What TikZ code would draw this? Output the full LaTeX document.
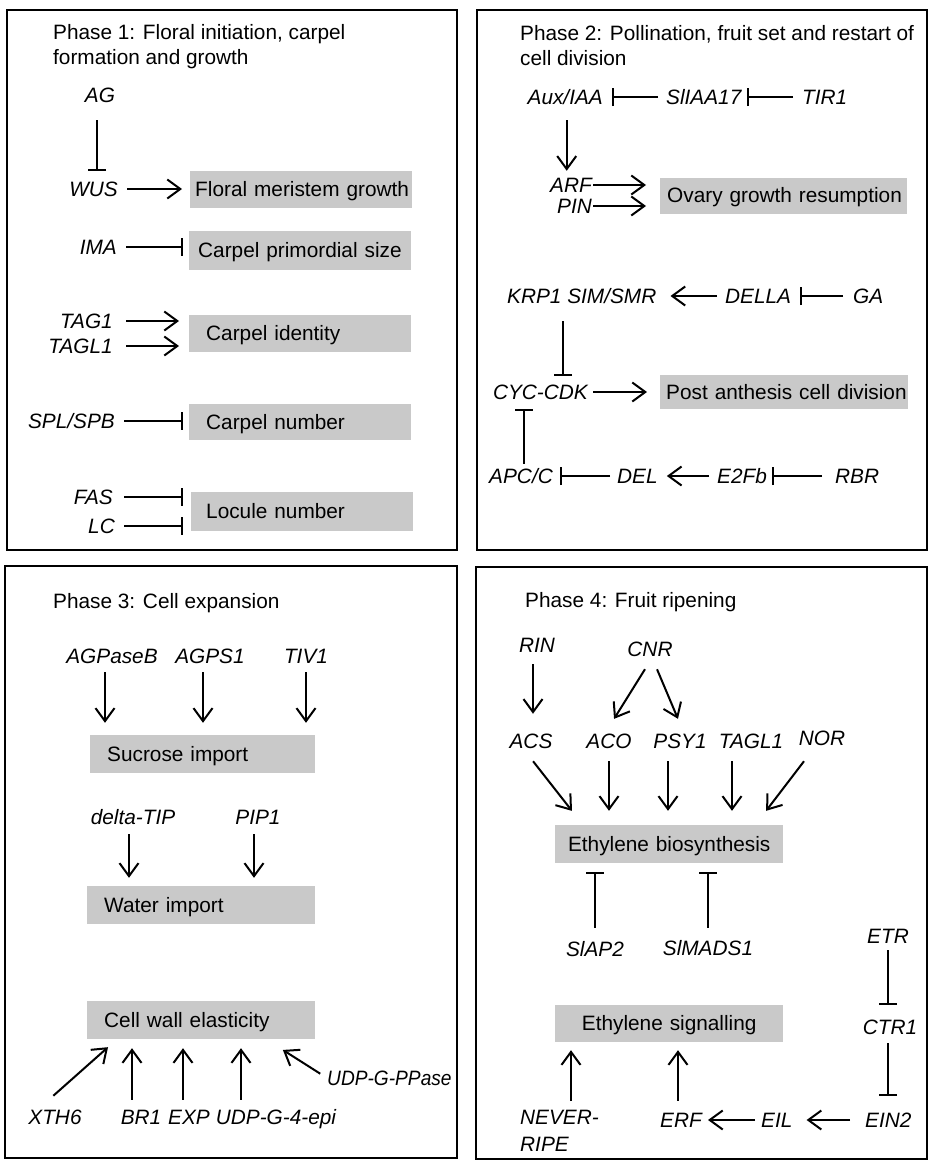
\documentclass[tikz,border=0pt]{standalone}
\usepackage{fontspec}
\setmainfont{Liberation Sans}
\usetikzlibrary{arrows.meta}
\definecolor{boxgray}{RGB}{201,201,201}
\begin{document}
\begin{tikzpicture}[x=1pt,y=-1pt,
  every node/.style={font=\fontsize{20.8}{25}\selectfont, inner sep=0pt},
  gene/.style={font=\fontsize{20.8}{25}\selectfont\itshape, text height=14.9pt, text depth=0pt},
  title/.style={anchor=north west, align=left},
  box/.style={fill=boxgray, anchor=west, text height=14.9pt, text depth=0pt},
  act/.style={line width=2pt, -{Straight Barb[length=13pt,width=19pt]}},
  inh/.style={line width=2pt, -{Bar[width=18pt]}},
  panel/.style={draw, line width=1.4pt}]
\useasboundingbox[fill=white] (0,0) rectangle (930,1173);

% ---------------- Panel 1 ----------------
\draw[panel] (7,10) rectangle (457,550);
\node[title] (t1) at (53,24.6) {Phase 1: Floral initiation, carpel\\formation and growth};
\node[gene] (AG) at (100,95) {AG};
\node[gene, anchor=east] (WUS) at (118,189) {WUS};
\node[box, text width=222pt, minimum height=37pt, align=left] (fmg) at (190,189.5) {\hspace*{5pt}Floral meristem growth};
\draw[act, shorten <=9pt, shorten >=8pt] (WUS.east) -- (WUS.east -| fmg.west);
\draw[inh, shorten <=17.6pt, shorten >=10.6pt] ([xshift=-3pt]AG.south) -- ([xshift=-3pt]AG.south |- WUS.north);

\node[gene, anchor=east] (IMA) at (117,247) {IMA};
\node[box, text width=222pt, minimum height=39pt, align=left] (cps) at (189,250.5) {\hspace*{9pt}Carpel primordial size};
\draw[inh, shorten <=9pt, shorten >=6pt] (IMA.east) -- (IMA.east -| cps.west);

\node[gene, anchor=east] (TAG1) at (113,321) {TAG1};
\node[gene, anchor=east] (TAGL1) at (113,346) {TAGL1};
\node[box, text width=222pt, minimum height=37pt, align=left] (cid) at (189,333.5) {\hspace*{17pt}Carpel identity};
\draw[act, shorten <=13pt, shorten >=10pt] (TAG1.east) -- (TAG1.east -| cid.west);
\draw[act, shorten <=13pt, shorten >=10pt] (TAGL1.east) -- (TAGL1.east -| cid.west);

\node[gene, anchor=east] (SPL) at (115,421) {SPL/SPB};
\node[box, text width=222pt, minimum height=36pt, align=left] (cnum) at (189,422) {\hspace*{17pt}Carpel number};
\draw[inh, shorten <=9pt, shorten >=6pt] (SPL.east) -- (SPL.east -| cnum.west);

\node[gene, anchor=east] (FAS) at (113,497) {FAS};
\node[gene, anchor=east] (LC) at (115,526) {LC};
\node[box, text width=222pt, minimum height=39pt, align=left] (lnum) at (191,511.5) {\hspace*{15pt}Locule number};
\draw[inh, shorten <=11pt, shorten >=8pt] (FAS.east) -- (FAS.east -| lnum.west);
\draw[inh, shorten <=9pt, shorten >=8pt] (LC.east) -- (LC.east -| lnum.west);

% ---------------- Panel 2 ----------------
\draw[panel] (477,10) rectangle (927,550);
\node[title] (t2) at (520,25.5) {Phase 2: Pollination, fruit set and restart of\\cell division};
\node[gene, anchor=east] (AuxIAA) at (603,97) {Aux/IAA};
\node[gene, anchor=west] (SlIAA17) at (666,97) {SlIAA17};
\node[gene, anchor=west] (TIR1) at (802,97) {TIR1};
\draw[inh, shorten <=9pt, shorten >=5pt] (TIR1.west) -- (SlIAA17.east);
\draw[inh, shorten <=8pt, shorten >=9pt] (SlIAA17.west) -- (AuxIAA.east);

\node[gene, anchor=east] (ARF) at (592,185) {ARF};
\node[gene, anchor=east] (PIN) at (592,206) {PIN};
\draw[act, shorten <=15.6pt, shorten >=6.6pt] ([xshift=1.5pt]AuxIAA.south) -- ([xshift=1.5pt]AuxIAA.south |- ARF.north);
\node[box, text width=247pt, minimum height=36pt, align=left] (ogr) at (660,195.5) {\hspace*{7pt}Ovary growth resumption};
\draw[act, shorten <=1pt, shorten >=14pt] (ARF.east) -- (ARF.east -| ogr.west);
\draw[act, shorten <=1pt, shorten >=14pt] (PIN.east) -- (PIN.east -| ogr.west);

\node[gene, anchor=west] (KRP) at (507,296) {KRP1 SIM/SMR};
\node[gene, anchor=west] (DELLA) at (725,296) {DELLA};
\node[gene, anchor=west] (GA) at (853,296) {GA};
\draw[inh, shorten <=10pt, shorten >=9pt] (GA.west) -- (DELLA.east);
\draw[act, shorten <=8pt, shorten >=14pt] (DELLA.west) -- (KRP.east);

\node[gene, anchor=east] (CYC) at (588,392) {CYC-CDK};
\draw[inh, shorten <=17.6pt, shorten >=8.6pt] ([xshift=56pt]KRP.south west) -- ([xshift=56pt]KRP.south west |- CYC.north);
\node[box, text width=248pt, minimum height=34pt, align=left] (pacd) at (660,392) {\hspace*{6pt}Post anthesis cell division};
\draw[act, shorten <=5pt, shorten >=13pt] (CYC.east) -- (CYC.east -| pacd.west);

\node[gene, anchor=east] (APC) at (553,476) {APC/C};
\node[gene, anchor=west] (DEL) at (617,476) {DEL};
\node[gene, anchor=west] (E2Fb) at (717,476) {E2Fb};
\node[gene, anchor=west] (RBR) at (835,476) {RBR};
\draw[inh, shorten <=4.6pt, shorten >=9.6pt] ([xshift=-29pt]APC.north east) -- ([xshift=-29pt]APC.north east |- CYC.south);
\draw[inh, shorten <=7pt, shorten >=7pt] (DEL.west) -- (APC.east);
\draw[act, shorten <=8pt, shorten >=9pt] (E2Fb.west) -- (DEL.east);
\draw[inh, shorten <=13pt, shorten >=5pt] (RBR.west) -- (E2Fb.east);

% ---------------- Panel 3 ----------------
\draw[panel] (5,566) rectangle (457,1158);
\node[title] (t3) at (53,593.6) {Phase 3: Cell expansion};
\node[gene] (AGPaseB) at (112,656) {AGPaseB};
\node[gene] (AGPS1) at (210,656) {AGPS1};
\node[gene] (TIV1) at (306,656) {TIV1};
\node[box, text width=225pt, minimum height=38pt, align=left] (suc) at (90,754) {\hspace*{17pt}Sucrose import};
\draw[act, shorten <=8.6pt, shorten >=12pt] ([xshift=-7pt]AGPaseB.south) -- ([xshift=-7pt]AGPaseB.south |- suc.north);
\draw[act, shorten <=8.6pt, shorten >=12pt] ([xshift=-7pt]AGPS1.south) -- ([xshift=-7pt]AGPS1.south |- suc.north);
\draw[act, shorten <=8.6pt, shorten >=12pt] (TIV1.south) -- (TIV1.south |- suc.north);

\node[gene] (dTIP) at (133,817) {delta-TIP};
\node[gene] (PIP1) at (258,817) {PIP1};
\node[box, text width=228pt, minimum height=38pt, align=left] (wat) at (87,905) {\hspace*{17pt}Water import};
\draw[act, shorten <=9.6pt, shorten >=8pt] ([xshift=-4pt]dTIP.south) -- ([xshift=-4pt]dTIP.south |- wat.north);
\draw[act, shorten <=9.6pt, shorten >=8pt] ([xshift=-4pt]PIP1.south) -- ([xshift=-4pt]PIP1.south |- wat.north);

\node[box, text width=228pt, minimum height=38pt, align=left] (cwe) at (87,1020) {\hspace*{17pt}Cell wall elasticity};
\node[gene] (XTH6) at (55,1117) {XTH6};
\node[gene] (BR1) at (141,1117) {BR1};
\node[gene] (EXP) at (189,1117) {EXP};
\node[gene] (UDPG4) at (276,1117) {UDP-G-4-epi};
\node[gene, anchor=west] (UDPGPP) at (327,1078) {\scalebox{0.92}[1]{UDP-G-PPase}};
\draw[act, shorten <=20.5pt, shorten >=12pt] ([xshift=-17pt]XTH6.north) -- ([xshift=30pt]cwe.south west);
\draw[act, shorten <=9.6pt, shorten >=9pt] ([xshift=-9pt]BR1.north) -- ([xshift=-9pt]BR1.north |- cwe.south);
\draw[act, shorten <=9.6pt, shorten >=9pt] ([xshift=-6pt]EXP.north) -- ([xshift=-6pt]EXP.north |- cwe.south);
\draw[act, shorten <=9.6pt, shorten >=9pt] ([xshift=-35pt]UDPG4.north) -- ([xshift=-35pt]UDPG4.north |- cwe.south);
\draw[act, shorten <=8pt, shorten >=20pt] (UDPGPP.west) -- ([xshift=179pt]cwe.south west);

% ---------------- Panel 4 ----------------
\draw[panel] (476,567) rectangle (927,1159);
\node[title] (t4) at (525,592.6) {Phase 4: Fruit ripening};
\node[gene] (RIN) at (537,645) {RIN};
\node[gene] (CNR) at (650,649) {CNR};
\node[gene] (ACS) at (531,741) {ACS};
\node[gene] (ACO) at (609,741) {ACO};
\node[gene] (PSY1) at (680,741) {PSY1};
\node[gene] (TAGL1b) at (751,741) {TAGL1};
\node[gene] (NOR) at (822,738) {NOR};
\draw[act, shorten <=11.6pt, shorten >=19.6pt] ([xshift=-4pt]RIN.south) -- ([xshift=-4pt]RIN.south |- ACS.north);
\draw[act, shorten <=14.8pt, shorten >=17.1pt] ([xshift=2.8pt]CNR.south) -- ([xshift=-4pt]ACO.north);
\draw[act, shorten <=13.7pt, shorten >=15.8pt] ([xshift=1.7pt]CNR.south) -- ([xshift=4.1pt]PSY1.north);

\node[box, text width=228pt, minimum height=38pt, align=center] (eb) at (555,844) {Ethylene biosynthesis};
\draw[act, shorten <=16pt, shorten >=17.7pt] ([xshift=-7.8pt]ACS.south) -- ([xshift=27.9pt]eb.north west);
\draw[act, shorten <=12.6pt, shorten >=14pt] (ACO.south) -- (ACO.south |- eb.north);
\draw[act, shorten <=12.6pt, shorten >=14pt] ([xshift=-12pt]PSY1.south) -- ([xshift=-12pt]PSY1.south |- eb.north);
\draw[act, shorten <=12.6pt, shorten >=14pt] ([xshift=-19pt]TAGL1b.south) -- ([xshift=-19pt]TAGL1b.south |- eb.north);
\draw[act, shorten <=19.6pt, shorten >=17.6pt] ([xshift=-6.1pt]NOR.south) -- ([xshift=200.4pt]eb.north west);

\node[gene] (SlAP2) at (595,949) {SlAP2};
\node[gene] (SlMADS1) at (708,948) {SlMADS1};
\draw[inh, shorten <=13.6pt, shorten >=9pt] (SlAP2.north) -- (SlAP2.north |- eb.south);
\draw[inh, shorten <=12.6pt, shorten >=9pt] (SlMADS1.north) -- (SlMADS1.north |- eb.south);

\node[box, text width=228pt, minimum height=37pt, align=center] (es) at (555,1023.5) {Ethylene signalling};
\node[gene] (ETR) at (888,936) {ETR};
\node[gene] (CTR1) at (890,1027) {CTR1};
\node[gene, anchor=west] (EIN2) at (865,1120) {EIN2};
\node[gene, anchor=west] (EIL) at (761,1120) {EIL};
\node[gene, anchor=east] (ERF) at (702,1120) {ERF};
\draw[inh, shorten <=6.6pt, shorten >=14.6pt] (ETR.south) -- (ETR.south |- CTR1.north);
\draw[inh, shorten <=8.6pt, shorten >=16.6pt] ([xshift=-2pt]CTR1.south) -- ([xshift=-2pt]CTR1.south |- EIN2.north);
\draw[act, shorten <=15pt, shorten >=14pt] (EIN2.west) -- (EIL.east);
\draw[act, shorten <=6pt, shorten >=6pt] (EIL.west) -- (ERF.east);
\draw[act, shorten <=11.6pt, shorten >=8pt] ([xshift=-24pt]ERF.north east) -- ([xshift=-24pt]ERF.north east |- es.south);

\node[anchor=north west, align=left, font=\fontsize{20.8}{27}\selectfont\itshape] (NEVER) at (520,1109.6) {NEVER-\\RIPE};
\draw[act, shorten <=8.6pt, shorten >=8pt] ([xshift=51pt]NEVER.north west) -- ([xshift=51pt]NEVER.north west |- es.south);
\end{tikzpicture}
\end{document}
